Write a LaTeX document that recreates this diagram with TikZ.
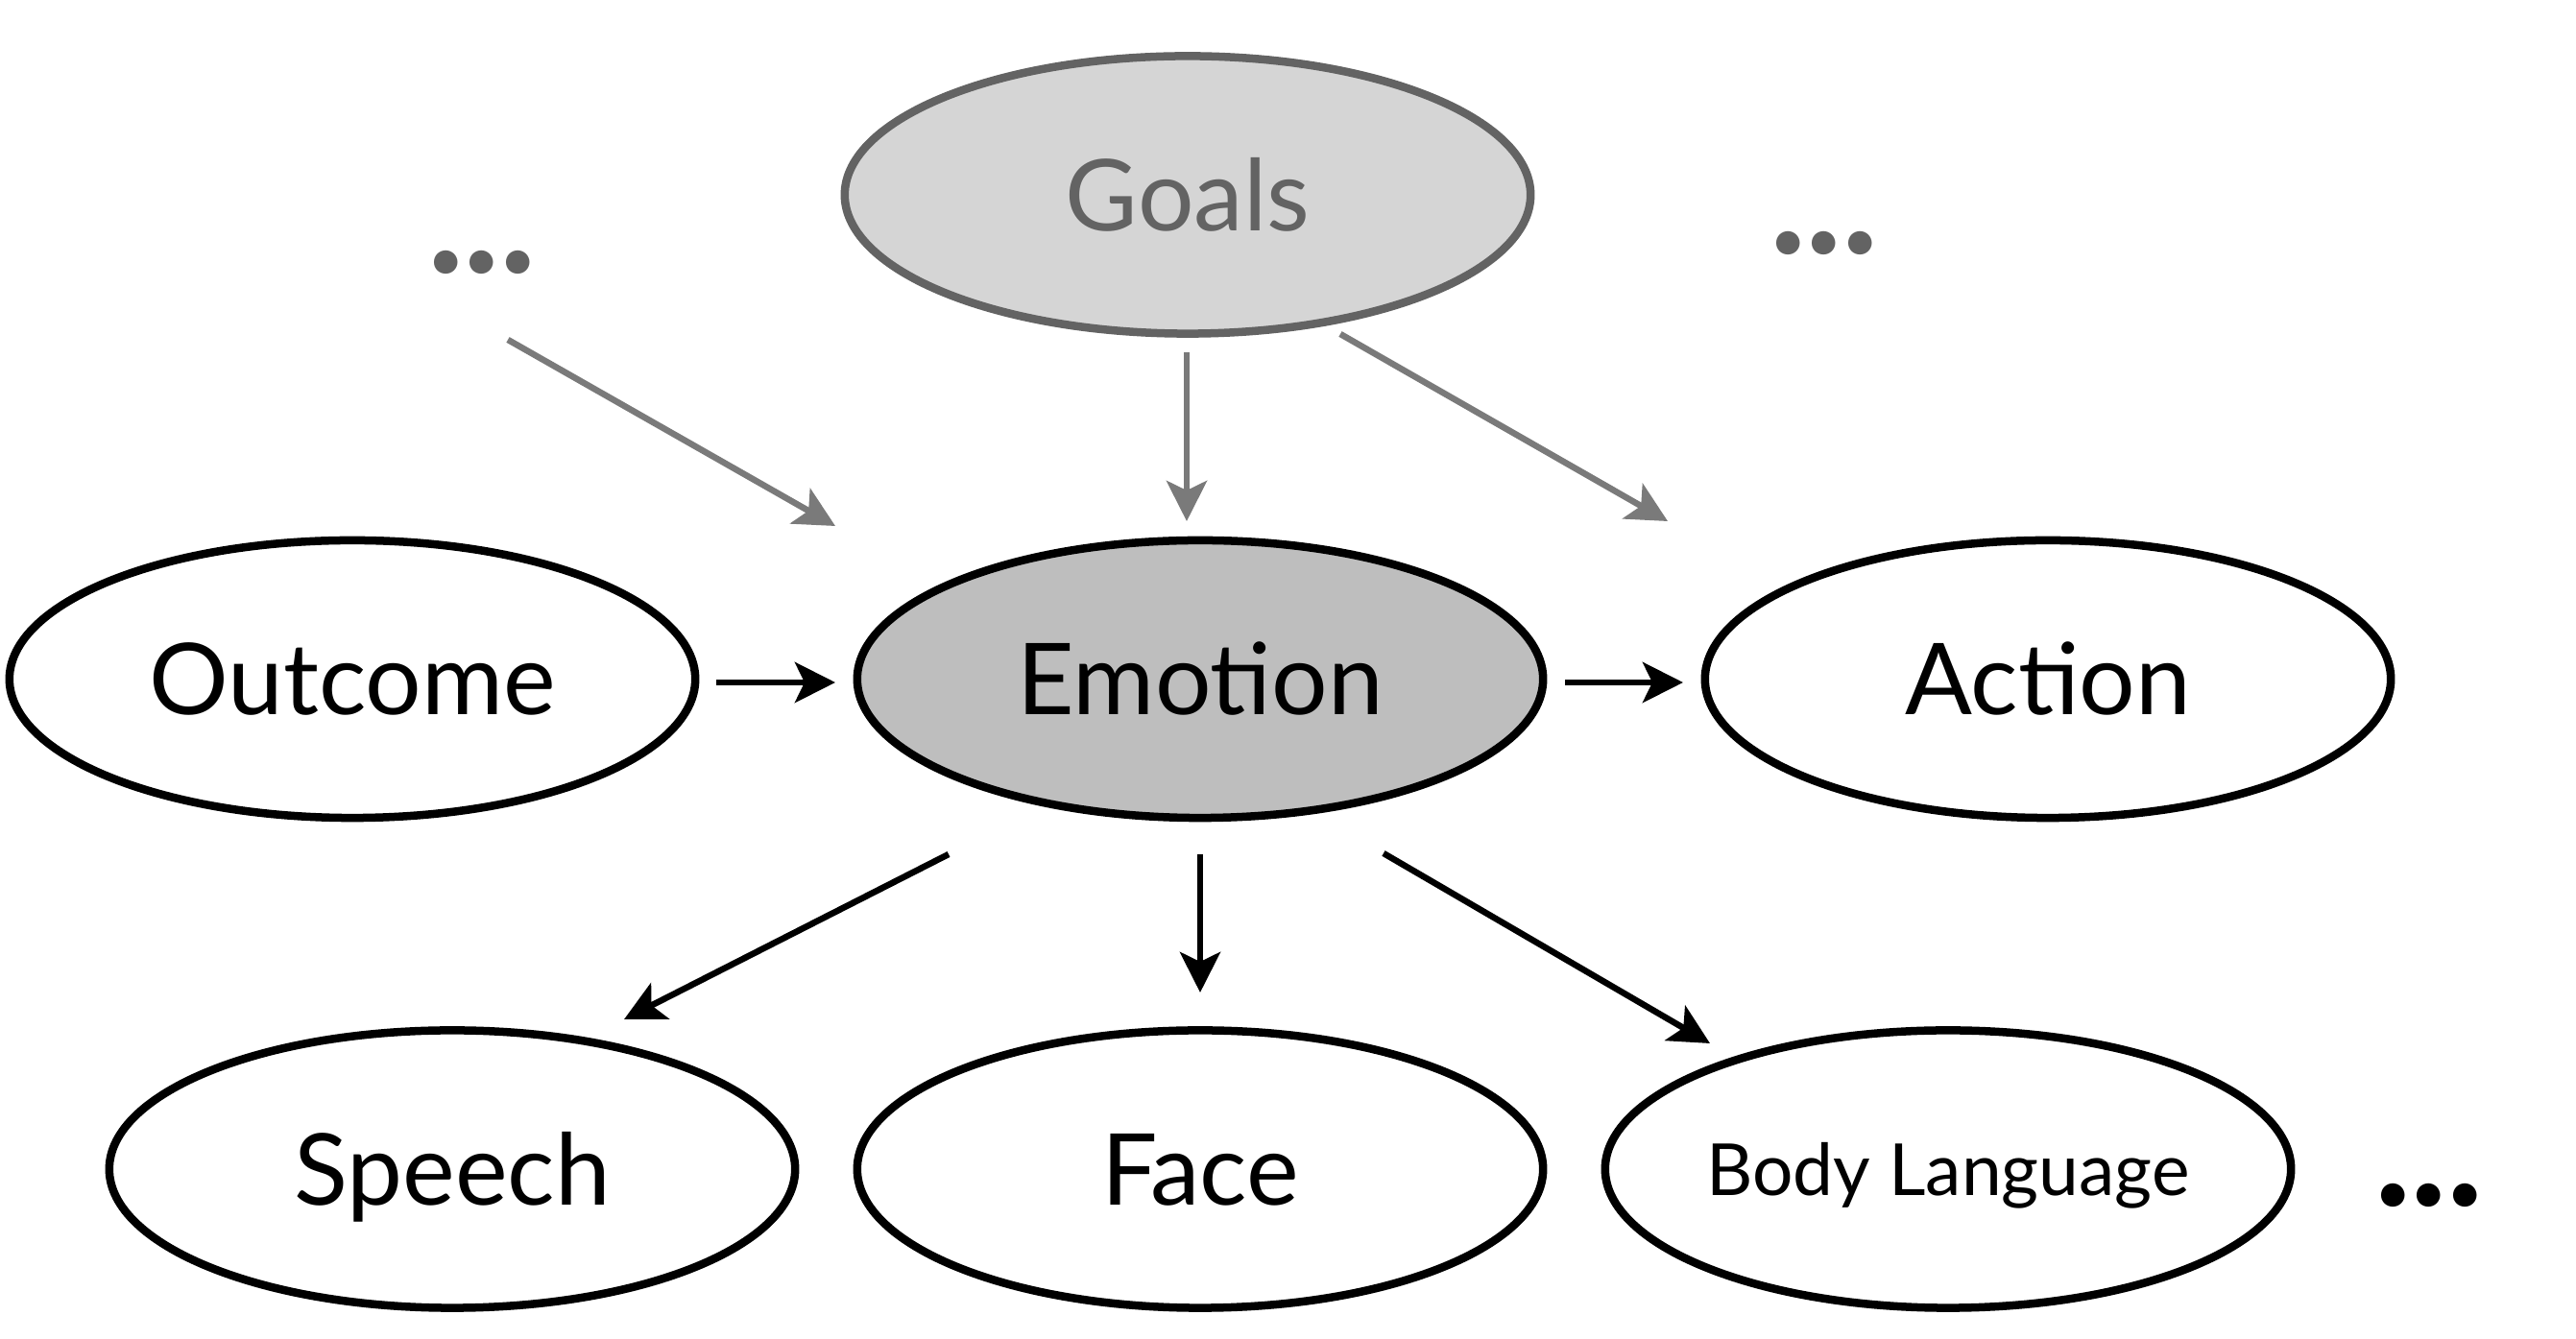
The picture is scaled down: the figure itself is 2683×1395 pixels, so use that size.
\documentclass[tikz,border=0pt]{standalone}
\usepackage{fontspec}
\setmainfont{Lato}
\usetikzlibrary{arrows.meta,shapes.geometric,calc}
\definecolor{goalfill}{HTML}{D5D5D5}
\definecolor{goaldraw}{HTML}{636363}
\definecolor{grayarrow}{HTML}{7A7A7A}
\definecolor{emofill}{HTML}{BEBEBE}
\begin{document}
\begin{tikzpicture}[x=0.01cm,y=-0.01cm,
  oval/.style={ellipse, draw=black, line width=0.085cm, minimum width=7.14cm, minimum height=2.89cm,
    inner sep=0pt, outer sep=0pt, text height=0.74cm, text depth=0pt, font=\fontsize{29.4}{30}\selectfont},
  arr/.style={line width=0.065cm, -{Stealth[length=0.42cm,width=0.42cm,inset=0.1cm]}},
  grayarr/.style={arr, draw=grayarrow},
  dotstyle/.style={font=\bfseries\fontsize{46}{46}\selectfont, anchor=base, inner sep=0pt}]
\useasboundingbox (0,0) rectangle (2683,1395);
\fill[white] (0,0) rectangle (2683,1395);
% nodes
\node[oval, fill=goalfill, draw=goaldraw, text=goaldraw] (goals) at (1237,203) {Goals};
\node[oval] (outcome) at (367,707.5) {Outcome};
\node[oval, fill=emofill] (emotion) at (1250,707.5) {Emotion};
\node[oval] (action) at (2133,707.5) {Action};
\node[oval] (speech) at (471,1218) {Speech};
\node[oval] (face) at (1250,1218) {Face};
\node[oval, text height=0.54cm, font=\fontsize{21.3}{24}\selectfont] (body) at (2029,1218) {\makebox[0pt]{Body Language}};
\node[dotstyle, text=goaldraw] (dotsA) at (502,285) {.\kern-0.2pt.\kern-0.2pt.};
\node[dotstyle, text=goaldraw] (dotsB) at (1900,265) {.\kern-0.2pt.\kern-0.2pt.};
\node[dotstyle] (dotsC) at (2530,1257) {.\kern-0.2pt.\kern-0.2pt.};
% gray connectors
\draw[grayarr] ($(dotsA)+(27,80)$) -- ($(emotion)+(-380,-159.5)$);
\draw[grayarr] ($(goals)+(-1,164)$) -- ($(emotion)+(-14,-164.5)$);
\draw[grayarr] ($(goals)+(159,145)$) -- ($(action)+(-396,-164.5)$);
% black connectors
\draw[arr] ($(outcome)+(379,3.5)$) -- ($(emotion)+(-380,3.5)$);
\draw[arr] ($(emotion)+(380,3.5)$) -- ($(action)+(-380,3.5)$);
\draw[arr] ($(emotion)+(-262,182.5)$) -- ($(speech)+(179,-156)$);
\draw[arr] ($(emotion)+(0,182.5)$) -- ($(face)+(0,-184)$);
\draw[arr] ($(emotion)+(191,181.5)$) -- ($(body)+(-248,-131)$);
\end{tikzpicture}
\end{document}
